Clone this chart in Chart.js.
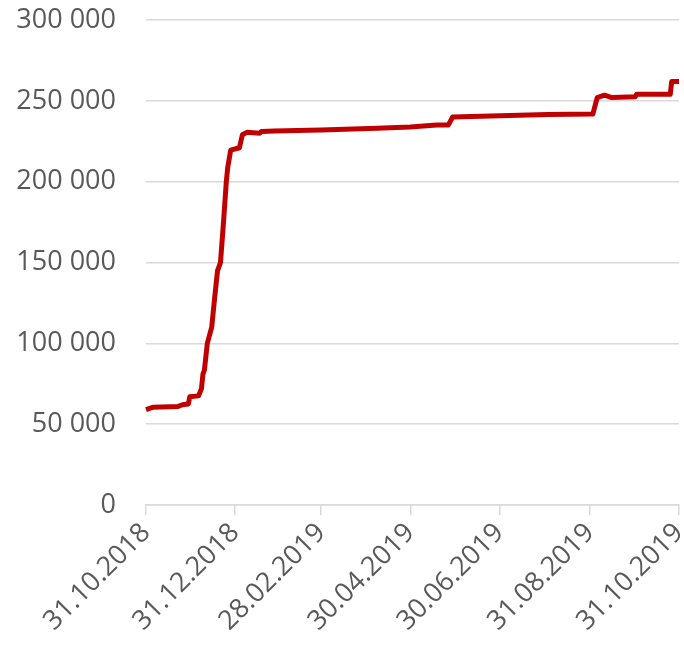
<!DOCTYPE html>
<html>
<head>
<meta charset="utf-8">
<script src="https://cdn.jsdelivr.net/npm/chart.js@4/dist/chart.umd.min.js"></script>
<style>
    html, body { margin: 0; padding: 0; background: #fff; }
    #wrap { width: 684px; height: 649px; }
</style>
</head>
<body>
<div id="wrap"><canvas id="myChart" width="684" height="649"></canvas></div>
<script>
// days since 31.10.2018 and the cumulative value on that day
var days = [0, 5, 22, 25, 29, 30, 36, 38, 39, 40, 42, 45, 47, 49, 51, 53, 55, 56, 58, 64, 66, 69, 78, 79, 88, 120, 158, 181, 199, 207, 210, 275, 306, 309, 314, 319, 335, 336, 359, 360, 365];
var values = [59000, 60500, 61000, 62000, 62500, 67000, 67500, 72000, 81000, 83500, 100000, 110000, 128000, 145000, 150000, 174000, 200000, 209000, 219500, 221000, 229000, 230500, 230000, 231000, 231300, 232000, 233000, 233800, 235000, 235000, 240000, 241500, 241800, 252000, 253500, 252000, 252500, 254000, 254000, 262000, 262000];

// x axis ticks (days since 31.10.2018) and their labels
var tickDays = [0, 61, 120, 181, 242, 304, 365];
var tickLabels = ['31.10.2018', '31.12.2018', '28.02.2019', '30.04.2019', '30.06.2019', '31.08.2019', '31.10.2019'];

var yTicks = [0, 50000, 100000, 150000, 200000, 250000, 300000];

(function () {
    "use strict";

    var points = days.map(function (d, i) { return { x: d, y: values[i] }; });
    var font = { family: "'Open Sans', sans-serif", size: 27 };

    var ctx = document.getElementById('myChart').getContext('2d');
    var chart = new Chart(ctx, {
        type: 'line',
        data: {
            datasets: [{
                data: points,
                borderColor: '#C00000',
                borderWidth: 5,
                borderJoinStyle: 'round',
                borderCapStyle: 'butt',
                pointRadius: 0,
                tension: 0,
                fill: false
            }]
        },
        options: {
            responsive: false,
            animation: false,
            clip: false,
            layout: { padding: { top: 20, right: 5, left: 0, bottom: 0 } },
            plugins: {
                legend: { display: false },
                tooltip: { enabled: false }
            },
            scales: {
                x: {
                    type: 'linear',
                    min: 0,
                    max: 365,
                    afterBuildTicks: function (scale) {
                        scale.ticks = tickDays.map(function (d) { return { value: d }; });
                    },
                    afterFit: function (scale) {
                        scale.height = 649 - 505;
                        scale.paddingLeft = 0;
                        scale.paddingRight = 0;
                    },
                    ticks: {
                        autoSkip: false,
                        maxRotation: 45,
                        minRotation: 45,
                        padding: 2,
                        color: '#595959',
                        font: font,
                        callback: function (value, index) { return tickLabels[index]; }
                    },
                    grid: {
                        drawOnChartArea: false,
                        color: '#d9d9d9',
                        lineWidth: 1.5,
                        tickLength: 10
                    },
                    border: { color: '#d9d9d9', width: 1.5 }
                },
                y: {
                    min: 0,
                    max: 300000,
                    afterBuildTicks: function (scale) {
                        scale.ticks = yTicks.map(function (v) { return { value: v }; });
                    },
                    afterFit: function (scale) {
                        scale.width = 146;
                        scale.paddingTop = 0;
                        scale.paddingBottom = 0;
                    },
                    ticks: {
                        padding: 30,
                        color: '#595959',
                        font: font,
                        callback: function (value) {
                            return String(value).replace(/\B(?=(\d{3})+(?!\d))/g, ' ');
                        }
                    },
                    grid: {
                        color: '#d9d9d9',
                        lineWidth: 1.5,
                        drawTicks: false
                    },
                    border: { display: false }
                }
            }
        }
    });
})();
</script>
</body>
</html>
